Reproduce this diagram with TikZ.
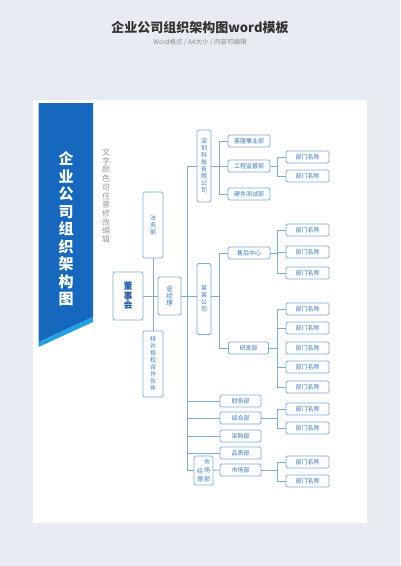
\documentclass[tikz,border=0pt]{standalone}
\usepackage{fontspec}
\setmainfont{Noto Sans CJK SC}
\usetikzlibrary{positioning}

\definecolor{pagebg}{RGB}{232,236,242}
\definecolor{bandblue}{RGB}{21,104,190}
\definecolor{bandcyan}{RGB}{34,160,226}
\definecolor{linecol}{RGB}{126,172,218}
\definecolor{txtcol}{RGB}{52,122,196}
\definecolor{darktxt}{RGB}{30,90,170}

\begin{document}
\begin{tikzpicture}[
						x=1pt, y=-1pt,
						link/.style = {draw=linecol, line width=0.8pt},
						vbox/.style = {draw=linecol, line width=0.8pt, fill=white, rounded corners=1.5pt, text=txtcol, inner sep=0pt, align=center, font=\fontsize{6}{7}\selectfont},
						hbox/.style = {vbox, minimum width=42pt, minimum height=12pt},
						dept/.style = {vbox, minimum width=43pt, minimum height=12pt}
					]
\useasboundingbox (0,0) rectangle (400,566);
\fill[pagebg] (0,0) rectangle (400,566);
% paper
\fill[black!7] (32,100) rectangle (368,525);
\fill[white] (33,100) rectangle (367,523);

% heading
\node (title) at (200,28) {\fontsize{13}{15}\selectfont\bfseries\color{black!80}企业公司组织架构图word模板};
\node (sub) at (200,42) {\fontsize{6.5}{8}\selectfont\color{black!45}Word格式 / A4大小 / 内容可编辑};

% banner
\fill[bandblue] (38.5,103) -- (93,103) -- (93,317) -- (38.5,342) -- cycle;
\fill[bandcyan] (93,317) -- (93,322) -- (38.5,347) -- (38.5,342) -- cycle;
\node[text=white, align=center, font=\fontsize{15}{17.5}\selectfont\bfseries] (band) at (66,229) {企\\业\\公\\司\\组\\织\\架\\构\\图};
\node[text=black!40, align=center, font=\fontsize{8}{8.7}\selectfont] (note) at (106,196) {文\\字\\颜\\色\\可\\任\\意\\修\\改\\编\\辑};

% left part
\node[vbox, minimum width=30pt, minimum height=48pt, text=darktxt, font=\fontsize{9}{9.5}\selectfont\bfseries] (dsh) at (128,296) {董\\事\\会};
\node[vbox, minimum width=20pt, minimum height=66pt] (fw) at (153,225) {法\\务\\部};
\node[vbox, minimum width=23pt, minimum height=38pt, font=\fontsize{6.5}{7.2}\selectfont] (zjl) at (169.5,296) {总\\经\\理};
\node[vbox, minimum width=20pt, minimum height=66pt] (tx) at (153,364) {特\\许\\授\\权\\合\\作\\伙\\伴};

% companies
\node[vbox, minimum width=14pt, minimum height=72pt] (sz) at (204,166) {深\\圳\\科\\技\\有\\限\\公\\司};
\node[vbox, minimum width=14pt, minimum height=71pt] (mm) at (204,299) {某\\某\\公\\司};
\node[vbox, minimum width=19pt, minimum height=29pt] (scjl) at (203.5,470.5) {\shortstack{经\\理}\,\shortstack{市\\场\\部}};

% second level
\node[hbox] (kf) at (249,141) {客服事业部};
\node[hbox] (gc) at (249,166) {工程监督部};
\node[hbox] (yj) at (249,194) {硬件测试部};
\node[hbox] (sh) at (249,253) {售后中心};
\node[hbox, minimum width=40pt] (yf) at (248.5,348) {研发部};
\node[hbox, minimum width=41pt] (cw) at (240.5,401) {财务部};
\node[hbox, minimum width=41pt] (zh) at (240.5,418) {综合部};
\node[hbox, minimum width=41pt] (cg) at (240.5,436) {采购部};
\node[hbox, minimum width=41pt] (pz) at (240.5,453) {品质部};
\node[hbox, minimum width=41pt] (sc) at (240.5,470) {市场部};

% departments
\node[dept] (gc1) at (307.5,157) {部门名称};
\node[dept] (gc2) at (307.5,176) {部门名称};
\node[dept] (sh1) at (307.5,230) {部门名称};
\node[dept] (sh2) at (307.5,252) {部门名称};
\node[dept] (sh3) at (307.5,273) {部门名称};
\node[dept] (yf1) at (307.5,309) {部门名称};
\node[dept] (yf2) at (307.5,328) {部门名称};
\node[dept] (yf3) at (307.5,348) {部门名称};
\node[dept] (yf4) at (307.5,367) {部门名称};
\node[dept] (yf5) at (307.5,387) {部门名称};
\node[dept] (zh1) at (307.5,409) {部门名称};
\node[dept] (zh2) at (307.5,428) {部门名称};
\node[dept] (sc1) at (307.5,462) {部门名称};
\node[dept] (sc2) at (307.5,481) {部门名称};

% connectors
\draw[link] (dsh) -- (zjl);
\draw[link] (fw) -- (tx);
\coordinate (t) at (187,296);
\draw[link] (zjl.east) -- (zjl.east -| mm.west);
\draw[link] (t) |- (sz);
\draw[link] (t) |- (scjl);
\foreach \n in {cw,zh,cg,pz}
	\draw[link] (t) |- (\n.west);
\draw[link] (scjl) -- (sc);

\draw[link] (sz.east) -- ++(8,0) coordinate (b1);
\foreach \n in {kf,gc,yj}
	\draw[link] (b1) |- (\n.west);
\draw[link] (mm.east |- t) -- ++(8,0) coordinate (b2);
\foreach \n in {sh,yf}
	\draw[link] (b2) |- (\n.west);
\draw[link] (gc.east) -- ++(7,0) coordinate (b3);
\foreach \n in {gc1,gc2}
	\draw[link] (b3) |- (\n.west);
\draw[link] (sh.east) -- ++(7,0) coordinate (b4);
\foreach \n in {sh1,sh2,sh3}
	\draw[link] (b4) |- (\n.west);
\draw[link] (yf.east) -- ++(8.5,0) coordinate (b5);
\foreach \n in {yf1,yf2,yf4,yf5}
	\draw[link] (b5) |- (\n.west);
\draw[link] (zh.east) -- ++(16,0) coordinate (b6);
\foreach \n in {zh1,zh2}
	\draw[link] (b6) |- (\n.west);
\draw[link] (sc.east) -- ++(16,0) coordinate (b7);
\foreach \n in {sc1,sc2}
	\draw[link] (b7) |- (\n.west);
\end{tikzpicture}
\end{document}
